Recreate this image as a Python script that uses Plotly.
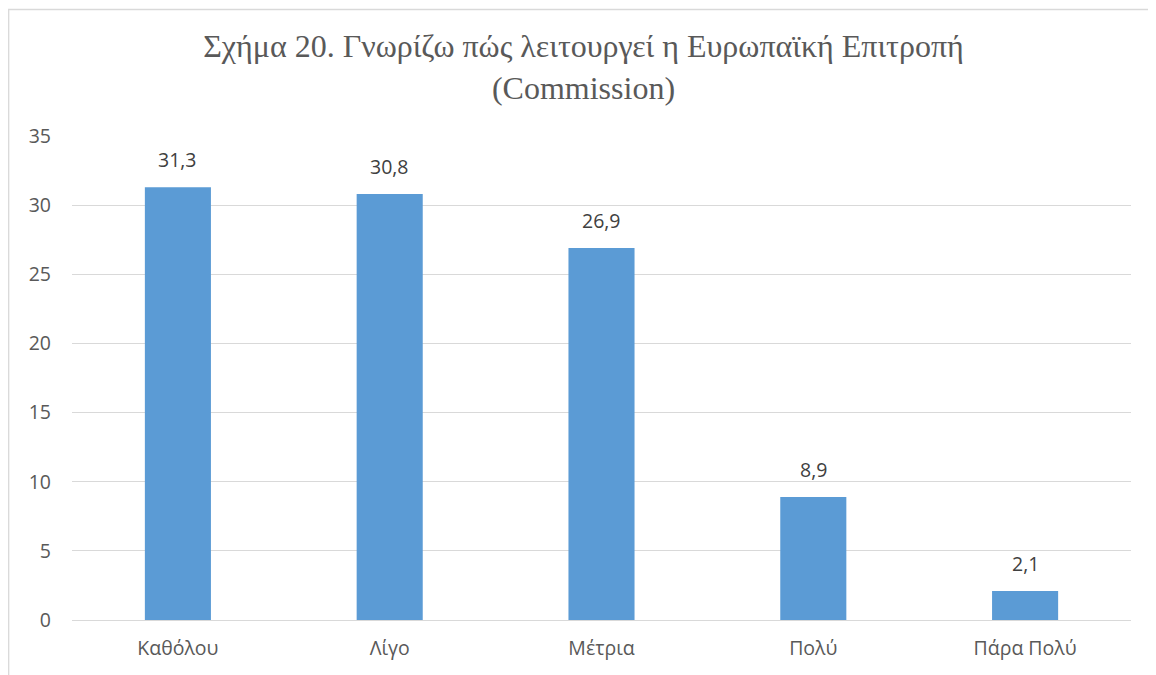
import plotly.graph_objects as go

categories = ["Καθόλου", "Λίγο", "Μέτρια", "Πολύ", "Πάρα Πολύ"]
values = [31.3, 30.8, 26.9, 8.9, 2.1]
value_labels = ["31,3", "30,8", "26,9", "8,9", "2,1"]
y_ticks = [0, 5, 10, 15, 20, 25, 30, 35]

title_text = "Σχήμα 20. Γνωρίζω πώς λειτουργεί η Ευρωπαϊκή Επιτροπή<br>(Commission)"

SANS = "Open Sans, Liberation Sans, sans-serif"

fig = go.Figure()
fig.add_trace(go.Bar(
    x=categories, y=values,
    marker=dict(color="#5B9BD5", line=dict(width=0)),
    hoverinfo="x+y",
))

for c, v, t in zip(categories, values, value_labels):
    fig.add_annotation(x=c, y=v, text=t, showarrow=False, xref="x", yref="y",
                       yanchor="bottom", yshift=12,
                       font=dict(family=SANS, size=19.5, color="#404040"))

W, H = 1156, 675
L, R, T, B = 64, 33, 128, 63
pw, ph = W - L - R, H - T - B

fig.update_layout(
    width=W, height=H,
    margin=dict(l=L, r=R, t=T, b=B),
    paper_bgcolor="white", plot_bgcolor="white",
    bargap=0.688,
    showlegend=False,
    title=dict(text=title_text, x=(575.5 / W), xanchor="center", xref="container",
               y=1 - 49 / H, yanchor="top", yref="container",
               font=dict(family="Liberation Serif, Times New Roman, serif", size=32, color="#595959")),
    xaxis=dict(showgrid=False, showline=False, ticks="", automargin=False,
               ticklabelstandoff=14,
               tickfont=dict(family=SANS, size=19.5, color="#595959")),
    yaxis=dict(range=[0, 35], tickvals=y_ticks, showgrid=True, gridcolor="#D9D9D9", gridwidth=1.3,
               zeroline=True, zerolinecolor="#D9D9D9", zerolinewidth=1.3, showline=False, ticks="",
               ticklabelstandoff=20, automargin=False,
               tickfont=dict(family=SANS, size=19.5, color="#595959")),
)

# chart border (left and top visible; right/bottom cropped by the viewport)
fig.add_shape(type="rect", xref="paper", yref="paper",
              x0=(0.7 - L) / pw, x1=(W + 30 - L) / pw,
              y0=-0.4,
              y1=(T + ph - 1.5) / ph,
              line=dict(color="#D9D9D9", width=1.3), fillcolor="rgba(0,0,0,0)", layer="below")

fig.write_html("out.html")
